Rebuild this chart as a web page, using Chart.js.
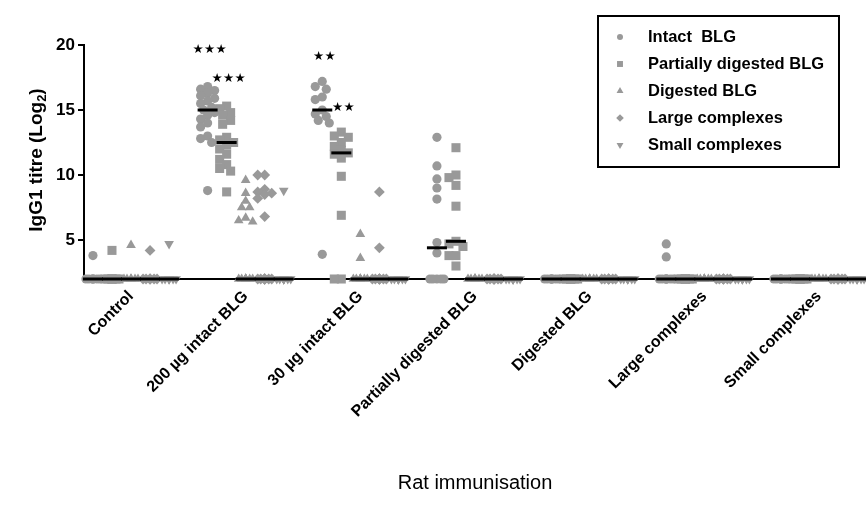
<!DOCTYPE html>
<html>
<head>
<meta charset="utf-8">
<script src="https://cdn.jsdelivr.net/npm/chart.js@4.4.1/dist/chart.umd.min.js"></script>
<style>
html, body { margin: 0; padding: 0; background: #fff; }
#wrap { width: 866px; height: 509px; }
</style>
</head>
<body>
<div id="wrap"><canvas id="titreChart" width="866" height="509"></canvas></div>
<script>
const groups = ['Control', '200 \u00b5g intact BLG', '30 \u00b5g intact BLG', 'Partially digested BLG',
    'Digested BLG', 'Large complexes', 'Small complexes'];
const seriesNames = ['Intact  BLG', 'Partially digested BLG', 'Digested BLG', 'Large complexes', 'Small complexes'];
const yTicks = [5, 10, 15, 20];

// IgG1 titres (log2) per rat, one list per immunisation group; 2 = below detection
const intactBLG = [
    [3.8, 2, 2, 2, 2, 2, 2, 2],
    [16.8, 16.6, 16.5, 16.3, 16.1, 15.9, 15.7, 15.5, 15.2, 15.0, 14.8, 14.6, 14.3, 14.0, 13.7, 13.0, 12.8, 12.5, 8.8],
    [17.2, 16.8, 16.6, 16.0, 15.8, 15.0, 14.7, 14.5, 14.2, 14.0, 3.9],
    [12.9, 10.7, 9.7, 9.0, 8.15, 4.8, 4.0, 2, 2, 2, 2, 2],
    [2, 2, 2, 2, 2, 2, 2, 2],
    [4.7, 3.7, 2, 2, 2, 2, 2, 2, 2, 2],
    [2, 2, 2, 2, 2, 2, 2, 2]
];
const partialBLG = [
    [4.2, 2, 2, 2, 2, 2, 2, 2],
    [15.3, 15.1, 14.8, 14.6, 14.2, 13.9, 12.9, 12.7, 12.5, 12.3, 12.0, 11.6, 11.2, 10.8, 10.5, 10.3, 8.7],
    [13.3, 13.0, 12.9, 12.5, 12.2, 11.9, 11.7, 11.6, 11.3, 9.9, 6.9, 2, 2],
    [12.1, 10.0, 9.8, 9.2, 7.6, 4.9, 4.7, 4.5, 3.8, 3.8, 3.0],
    [2, 2, 2, 2, 2, 2, 2, 2],
    [2, 2, 2, 2, 2, 2, 2, 2],
    [2, 2, 2, 2, 2, 2, 2, 2]
];
const digestedBLG = [
    [4.6, 2, 2, 2, 2, 2, 2, 2],
    [9.6, 8.6, 8.0, 7.5, 7.5, 6.7, 6.5, 6.4, 2, 2, 2, 2, 2, 2, 2, 2, 2, 2],
    [5.45, 3.6, 2, 2, 2, 2, 2, 2, 2, 2, 2],
    [2, 2, 2, 2, 2, 2, 2, 2, 2, 2],
    [2, 2, 2, 2, 2, 2, 2, 2],
    [2, 2, 2, 2, 2, 2, 2, 2],
    [2, 2, 2, 2, 2, 2, 2, 2]
];
const largeComplexes = [
    [4.2, 2, 2, 2, 2, 2, 2, 2],
    [10.0, 10.0, 8.9, 8.7, 8.6, 8.5, 8.2, 6.8, 2, 2, 2, 2, 2, 2, 2, 2, 2, 2],
    [8.7, 4.4, 2, 2, 2, 2, 2, 2, 2, 2, 2],
    [2, 2, 2, 2, 2, 2, 2, 2, 2, 2],
    [2, 2, 2, 2, 2, 2, 2, 2],
    [2, 2, 2, 2, 2, 2, 2, 2],
    [2, 2, 2, 2, 2, 2, 2, 2]
];
const smallComplexes = [
    [4.7, 2, 2, 2, 2, 2, 2, 2],
    [8.8, 2, 2, 2, 2, 2, 2, 2, 2, 2, 2],
    [2, 2, 2, 2, 2, 2, 2, 2, 2, 2],
    [2, 2, 2, 2, 2, 2, 2, 2, 2, 2],
    [2, 2, 2, 2, 2, 2, 2, 2],
    [2, 2, 2, 2, 2, 2, 2, 2],
    [2, 2, 2, 2, 2, 2, 2, 2]
];

// significance stars: group index, series index, number of stars, height (log2)
const starGroup = [1, 1, 2, 2];
const starSeries = [0, 1, 0, 1];
const starCount = [3, 3, 2, 2];
const starLevel = [19.6, 17.4, 19.1, 15.15];

const allSeries = [intactBLG, partialBLG, digestedBLG, largeComplexes, smallComplexes];
const shapes = ['circle', 'rect', 'triangle', 'rectRot', 'triangle'];
const rotations = [0, 0, 0, 0, 180];
const radii = [4.6, 6.4, 5.6, 5.4, 5.6];
const grey = '#999999';

const SUB_STEP = 0.166;       // spacing of the five columns within a group
const PX_PER_GROUP = 114.7;
const PX_PER_UNIT = 13;

function median(vals) {
    const s = vals.slice().sort((a, b) => a - b);
    const m = Math.floor(s.length / 2);
    return s.length % 2 ? s[m] : (s[m - 1] + s[m]) / 2;
}

// simple column-scatter spread so overlapping points sit side by side
function swarm(vals) {
    const sorted = vals.slice().sort((a, b) => b - a);
    const placed = [];
    const cands = [0, -4, 4, -7, 7];
    sorted.forEach(v => {
        let best = 0, bestD = -1;
        for (const c of cands) {
            let d = Infinity;
            placed.forEach(p => { d = Math.min(d, Math.hypot(p.dx - c, (p.v - v) * PX_PER_UNIT)); });
            if (d >= 7.5) { best = c; bestD = d; break; }
            if (d > bestD) { bestD = d; best = c; }
        }
        placed.push({ v: v, dx: best });
    });
    return placed;
}

function colX(g, s) { return g + (s - 2) * SUB_STEP; }

const medianPoints = [];
const datasets = allSeries.map((series, s) => {
    const pts = [];
    series.forEach((vals, g) => {
        swarm(vals).forEach(p => pts.push({ x: colX(g, s) + p.dx / PX_PER_GROUP, y: p.v }));
        medianPoints.push({ x: colX(g, s), y: median(vals) });
    });
    return {
        label: seriesNames[s],
        data: pts,
        showLine: false,
        pointStyle: shapes[s],
        pointRotation: rotations[s],
        pointRadius: radii[s],
        pointBackgroundColor: grey,
        pointBorderWidth: 0,
        pointBorderColor: grey,
        clip: false
    };
});
datasets.unshift({
    label: 'Median',
    data: medianPoints,
    showLine: false,
    pointStyle: 'line',
    pointRadius: 10,
    pointBorderWidth: 3,
    pointBorderColor: '#000',
    clip: false
});

const fontFamily = '"Liberation Sans", Arial, sans-serif';

const starsPlugin = {
    id: 'stars',
    afterDatasetsDraw(chart) {
        const ctx = chart.ctx, xs = chart.scales.x, ys = chart.scales.y;
        ctx.save();
        ctx.fillStyle = '#000';
        ctx.font = '12.5px "DejaVu Sans"';
        ctx.textAlign = 'center';
        ctx.textBaseline = 'middle';
        starGroup.forEach((g, i) => {
            const cx = xs.getPixelForValue(colX(g, starSeries[i])) + 2;
            const cy = ys.getPixelForValue(starLevel[i]);
            for (let k = 0; k < starCount[i]; k++) {
                ctx.fillText('\u2605', cx + (k - (starCount[i] - 1) / 2) * 11.5, cy);
            }
        });
        ctx.restore();
    }
};

const yTitlePlugin = {
    id: 'yTitle',
    afterDraw(chart) {
        const ctx = chart.ctx;
        const main = 'IgG1 titre (Log', sub = '2', tail = ')';
        ctx.save();
        ctx.fillStyle = '#000';
        ctx.textBaseline = 'middle';
        ctx.font = 'bold 19px ' + fontFamily;
        const w1 = ctx.measureText(main).width, w3 = ctx.measureText(tail).width;
        ctx.font = 'bold 13px ' + fontFamily;
        const w2 = ctx.measureText(sub).width;
        const total = w1 + w2 + w3;
        ctx.translate(37, 160);
        ctx.rotate(-Math.PI / 2);
        let x = -total / 2;
        ctx.font = 'bold 19px ' + fontFamily;
        ctx.fillText(main, x, 0);
        x += w1;
        ctx.font = 'bold 13px ' + fontFamily;
        ctx.fillText(sub, x, 5);
        x += w2;
        ctx.font = 'bold 19px ' + fontFamily;
        ctx.fillText(tail, x, 0);
        ctx.restore();
    }
};

const legendPlugin = {
    id: 'boxLegend',
    afterDraw(chart) {
        const ctx = chart.ctx;
        ctx.save();
        ctx.strokeStyle = '#000';
        ctx.lineWidth = 2;
        ctx.strokeRect(598, 16, 241, 151);
        const legendRadii = [3, 4.2, 4, 3.8, 4];
        seriesNames.forEach((name, s) => {
            const y = 37 + s * 27;
            ctx.fillStyle = grey;
            Chart.helpers.drawPoint(ctx, { pointStyle: shapes[s], rotation: rotations[s], radius: legendRadii[s], borderWidth: 0 }, 620, y);
            ctx.fillStyle = '#000';
            ctx.font = 'bold 16.5px ' + fontFamily;
            ctx.textBaseline = 'middle';
            ctx.textAlign = 'left';
            ctx.fillText(name, 648, y);
        });
        ctx.restore();
    }
};

new Chart(document.getElementById('titreChart'), {
    type: 'scatter',
    data: { datasets: datasets },
    options: {
        responsive: false,
        animation: false,
        events: [],
        layout: { autoPadding: false, padding: { top: 45, left: 0, right: 0, bottom: 0 } },
        plugins: { legend: { display: false }, tooltip: { enabled: false } },
        scales: {
            x: {
                type: 'linear',
                min: -0.41,
                max: 6.41,
                afterBuildTicks: scale => { scale.ticks = groups.map((_, i) => ({ value: i })); },
                afterFit: scale => {
                    scale.height = 230;
                    scale.paddingLeft = 0;
                    scale.paddingRight = 0;
                },
                ticks: {
                    callback: v => groups[v],
                    autoSkip: false,
                    minRotation: 45,
                    maxRotation: 45,
                    padding: 0,
                    color: '#000',
                    font: { family: fontFamily, weight: 'bold', size: 16 }
                },
                grid: { display: false },
                border: { color: '#000', width: 2 },
                title: {
                    display: true,
                    text: 'Rat immunisation',
                    color: '#000',
                    font: { family: fontFamily, size: 20 },
                    padding: { top: 0, bottom: 14 }
                }
            },
            y: {
                min: 2,
                max: 20,
                afterBuildTicks: scale => { scale.ticks = yTicks.map(v => ({ value: v })); },
                afterFit: scale => { scale.width = 84; },
                ticks: {
                    padding: 3,
                    color: '#000',
                    font: { family: fontFamily, weight: 'bold', size: 17 }
                },
                grid: { drawOnChartArea: false, tickLength: 6, color: '#000', lineWidth: 2 },
                border: { color: '#000', width: 2 }
            }
        }
    },
    plugins: [starsPlugin, yTitlePlugin, legendPlugin]
});
</script>
</body>
</html>
